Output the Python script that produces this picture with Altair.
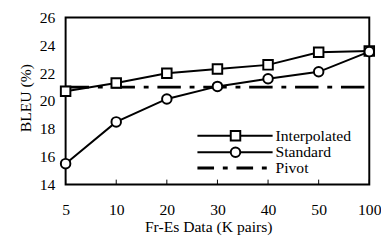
import altair as alt
import pandas as pd

categories = ["5", "10", "20", "30", "40", "50", "100"]
interpolated = [20.7, 21.3, 22.0, 22.3, 22.6, 23.5, 23.6]
standard = [15.5, 18.5, 20.15, 21.05, 21.6, 22.1, 23.55]
pivot = [21.0] * 7
y_ticks = [14, 16, 18, 20, 22, 24, 26]

FONT = "Liberation Serif"
DASH = [24, 9, 5, 9]

df = pd.DataFrame({
    "x": categories * 2,
    "y": interpolated + standard,
    "series": ["Interpolated"] * 7 + ["Standard"] * 7,
})
dfp = pd.DataFrame({"x": categories, "y": pivot})

xs = alt.X("x:N", sort=categories, scale=alt.Scale(type="point", padding=0),
           axis=alt.Axis(title="Fr-Es Data (K pairs)", labelAngle=0, tickSize=0,
                         domain=False, labelPadding=18, titlePadding=1,
                         titleX=146, titleAlign="center"))
ys = alt.Y("y:Q", scale=alt.Scale(domain=[14, 26], nice=False),
           axis=alt.Axis(title="BLEU (%)", values=y_ticks, tickSize=0, domain=False,
                         labelPadding=11, titlePadding=6, grid=False,
                         titleY=82, titleAlign="center"))

pivot_line = alt.Chart(dfp).mark_line(color="black", strokeWidth=3,
                                     strokeDash=DASH).encode(x=xs, y=ys)

lines = alt.Chart(df).mark_line(color="black", strokeWidth=2).encode(
    x=xs, y=ys, detail="series:N")

sq = alt.Chart(df[df.series == "Interpolated"]).mark_point(
    shape="square", size=95, filled=True, fill="white", stroke="black",
    strokeWidth=2, opacity=1).encode(x=xs, y=ys)
ci = alt.Chart(df[df.series == "Standard"]).mark_point(
    shape="circle", size=95, filled=True, fill="white", stroke="black",
    strokeWidth=2, opacity=1).encode(x=xs, y=ys)

ticks = alt.Chart(pd.DataFrame({"x": categories})).mark_rule(
    color="black", strokeWidth=1).encode(x=xs, y=alt.value(166), y2=alt.value(171))

# legend
leg_rows = [("Interpolated", "square", 121, "solid"),
            ("Standard", "circle", 138, "solid"),
            ("Pivot", None, 154, "dash")]
leg_layers = []
one = pd.DataFrame({"a": [0]})
for name, shape, yy, style in leg_rows:
    if style == "solid":
        leg_layers.append(alt.Chart(one).mark_rule(color="black", strokeWidth=2).encode(
            x=alt.value(135), x2=alt.value(212), y=alt.value(yy)))
    else:
        leg_layers.append(alt.Chart(one).mark_rule(color="black", strokeWidth=3,
                                                   strokeDash=[17, 9, 5, 9]).encode(
            x=alt.value(135), x2=alt.value(212), y=alt.value(yy)))
    if shape:
        leg_layers.append(alt.Chart(one).mark_point(
            shape=shape, size=95, filled=True, fill="white", stroke="black",
            strokeWidth=2, opacity=1).encode(x=alt.value(174), y=alt.value(yy)))
    leg_layers.append(alt.Chart(one).mark_text(
        text=name, font=FONT, fontSize=16, align="left", baseline="middle",
        color="black").encode(x=alt.value(215), y=alt.value(yy)))

chart = alt.layer(pivot_line, lines, ticks, sq, ci, *leg_layers).properties(
    width=311, height=171,
    autosize=alt.AutoSizeParams(type="none"),
    padding={"left": 59, "top": 7, "right": 12, "bottom": 52},
).configure_view(stroke="black", strokeWidth=2).configure_axis(
    labelFont=FONT, titleFont=FONT, labelFontSize=16, titleFontSize=16,
    labelColor="black", titleColor="black", titleFontWeight="normal",
)

chart.save("out.html", embed_options={"renderer": "svg", "actions": False})
